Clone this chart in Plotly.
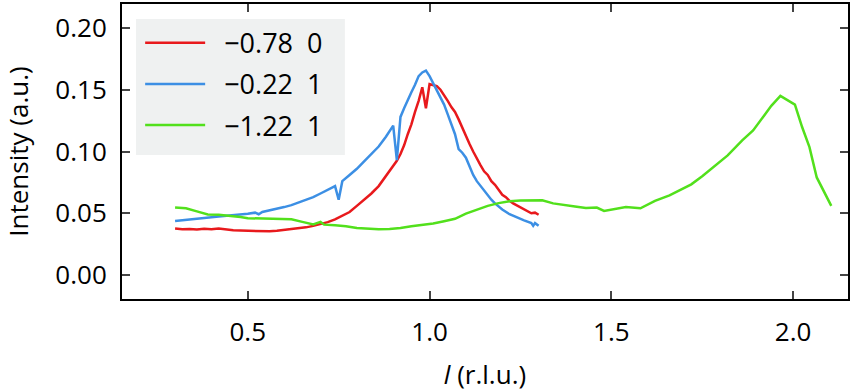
import plotly.graph_objects as go

# l (r.l.u.) and intensity values
l_red = [0.30, 0.32, 0.34, 0.36, 0.38, 0.40, 0.42, 0.44, 0.46, 0.48, 0.50, 0.52, 0.54, 0.56, 0.58,
         0.60, 0.62, 0.64, 0.66, 0.68, 0.70, 0.72, 0.74, 0.76, 0.78, 0.80, 0.82, 0.84, 0.86, 0.88,
         0.90, 0.91, 0.92, 0.93, 0.94, 0.95, 0.96, 0.97, 0.98, 0.99, 1.00, 1.01, 1.02, 1.03, 1.04,
         1.05, 1.06, 1.07, 1.08, 1.09, 1.10, 1.11, 1.12, 1.13, 1.14, 1.15, 1.16, 1.17, 1.18, 1.19,
         1.20, 1.21, 1.22, 1.23, 1.24, 1.25, 1.26, 1.27, 1.28, 1.29, 1.30]
i_red = [0.0376, 0.0370, 0.0372, 0.0368, 0.0374, 0.0370, 0.0376, 0.0366, 0.0362, 0.0360, 0.0358,
         0.0360, 0.0357, 0.0354, 0.0358, 0.0365, 0.0368, 0.0378, 0.0386, 0.0398, 0.0410, 0.0428,
         0.0450, 0.0480, 0.0510, 0.0560, 0.0610, 0.0660, 0.0720, 0.0800, 0.0880, 0.0925, 0.0980,
         0.1050, 0.1140, 0.1220, 0.1320, 0.1410, 0.1520, 0.1350, 0.1545, 0.1540, 0.1530, 0.1500,
         0.1460, 0.1410, 0.1360, 0.1320, 0.1260, 0.1190, 0.1120, 0.1060, 0.1000, 0.0940, 0.0890,
         0.0840, 0.0810, 0.0760, 0.0730, 0.0690, 0.0650, 0.0630, 0.0600, 0.0580, 0.0565, 0.0548,
         0.0535, 0.0520, 0.0500, 0.0505, 0.0488]

l_blue = [0.30, 0.32, 0.34, 0.36, 0.38, 0.40, 0.42, 0.44, 0.46, 0.48, 0.50, 0.52, 0.53, 0.54, 0.56,
          0.58, 0.60, 0.62, 0.64, 0.66, 0.68, 0.70, 0.72, 0.74, 0.75, 0.76, 0.78, 0.80, 0.82, 0.84,
          0.86, 0.88, 0.90, 0.91, 0.92, 0.93, 0.94, 0.95, 0.96, 0.97, 0.98, 0.99, 1.00, 1.01, 1.02,
          1.03, 1.04, 1.05, 1.06, 1.07, 1.08, 1.09, 1.10, 1.11, 1.12, 1.13, 1.14, 1.15, 1.16, 1.17,
          1.18, 1.19, 1.20, 1.22, 1.24, 1.26, 1.28, 1.285, 1.29, 1.30]
i_blue = [0.0438, 0.0445, 0.0448, 0.0456, 0.0462, 0.0468, 0.0474, 0.0478, 0.0484, 0.0488, 0.0496,
          0.0505, 0.0492, 0.0510, 0.0522, 0.0538, 0.0550, 0.0566, 0.0588, 0.0608, 0.0630, 0.0660,
          0.0690, 0.0720, 0.0610, 0.0760, 0.0810, 0.0860, 0.0920, 0.0980, 0.1040, 0.1120, 0.1210,
          0.0930, 0.1280, 0.1350, 0.1420, 0.1480, 0.1540, 0.1610, 0.1640, 0.1655, 0.1610, 0.1550,
          0.1490, 0.1440, 0.1380, 0.1300, 0.1220, 0.1140, 0.1020, 0.0990, 0.0950, 0.0880, 0.0810,
          0.0760, 0.0720, 0.0680, 0.0640, 0.0610, 0.0580, 0.0555, 0.0530, 0.0492, 0.0465, 0.0442,
          0.0420, 0.0398, 0.0420, 0.0398]

l_green = [0.30, 0.33, 0.36, 0.39, 0.42, 0.45, 0.48, 0.50, 0.53, 0.56, 0.59, 0.62, 0.65, 0.68, 0.70,
           0.71, 0.74, 0.77, 0.80, 0.83, 0.86, 0.89, 0.92, 0.95, 0.98, 1.01, 1.04, 1.07, 1.10, 1.13,
           1.16, 1.19, 1.22, 1.25, 1.28, 1.31, 1.34, 1.37, 1.40, 1.43, 1.46, 1.48, 1.51, 1.54, 1.58,
           1.62, 1.66, 1.69, 1.72, 1.75, 1.78, 1.82, 1.86, 1.89, 1.92, 1.94, 1.965, 1.98, 2.005,
           2.025, 2.045, 2.065, 2.105]
i_green = [0.0546, 0.0540, 0.0515, 0.0490, 0.0488, 0.0482, 0.0470, 0.0460, 0.0458, 0.0457, 0.0456,
           0.0452, 0.0430, 0.0410, 0.0430, 0.0408, 0.0402, 0.0395, 0.0380, 0.0372, 0.0370, 0.0372,
           0.0380, 0.0395, 0.0405, 0.0417, 0.0435, 0.0455, 0.0497, 0.0530, 0.0560, 0.0582, 0.0598,
           0.0603, 0.0604, 0.0605, 0.0580, 0.0570, 0.0555, 0.0543, 0.0546, 0.0519, 0.0535, 0.0550,
           0.0540, 0.0600, 0.0645, 0.0690, 0.0734, 0.0800, 0.0870, 0.0968, 0.1090, 0.1170, 0.1290,
           0.1370, 0.1450, 0.1425, 0.1380, 0.1196, 0.1035, 0.0790, 0.0560]

nb = "\u00a0"
series = [
    (nb * 2 + "\u22120.78" + nb * 2 + "0", l_red, i_red, "#e8191c"),
    (nb * 2 + "\u22120.22" + nb * 2 + "1", l_blue, i_blue, "#3c8fe4"),
    (nb * 2 + "\u22121.22" + nb * 2 + "1", l_green, i_green, "#52e01c"),
]

fig = go.Figure()
for i, (name, x, y, color) in enumerate(series):
    fig.add_trace(go.Scatter(x=x, y=y, mode="lines", name=name, legendgroup=str(i),
                             line=dict(color=color, width=2.5)))

axis_style = dict(showline=True, linecolor="black", linewidth=2, mirror="ticks",
                  ticks="inside", ticklen=8, tickwidth=1.5, tickcolor="#444",
                  showgrid=False, zeroline=False, automargin=False,
                  tickfont=dict(size=26, color="black"))

fig.update_xaxes(range=[0.154, 2.151], tickvals=[0.5, 1.0, 1.5, 2.0], ticktext=["0.5", "1.0", "1.5", "2.0"],
                 ticklabelstandoff=9,
                 title=dict(text="<i>l</i> (r.l.u.)", font=dict(size=26, color="black"), standoff=20),
                 **axis_style)
fig.update_yaxes(range=[-0.0194, 0.2194], tickvals=[0, 0.05, 0.10, 0.15, 0.20],
                 ticktext=["0.00", "0.05", "0.10", "0.15", "0.20"], ticklabelstandoff=8,
                 title=dict(text="Intensity (a.u.)", font=dict(size=26, color="black"), standoff=26),
                 **axis_style)

# light grey legend panel
fig.add_shape(type="rect", xref="paper", yref="paper", x0=0.0193, x1=0.307, y0=0.488, y1=0.949,
              fillcolor="#eff1f1", line_width=0, layer="below")

fig.update_layout(
    width=852, height=392,
    margin=dict(l=122, r=4, t=4, b=93),
    paper_bgcolor="white", plot_bgcolor="white",
    font=dict(family="Open Sans", color="black"),
    showlegend=True,
    legend=dict(x=0.025, y=0.950, xanchor="left", yanchor="top", bgcolor="rgba(0,0,0,0)",
                font=dict(size=27, color="black"), itemwidth=60, tracegroupgap=3,
                traceorder="grouped"),
)

fig.write_html("out.html", config={"displayModeBar": False},
               post_script="document.body.style.margin='0';")
